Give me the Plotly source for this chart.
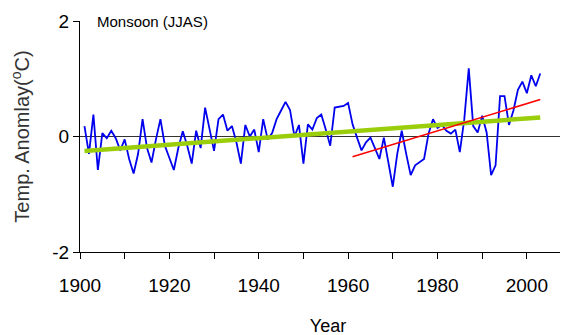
import plotly.graph_objects as go

years = list(range(1901, 2004))
anomaly = [
    0.18, -0.30, 0.38, -0.58, 0.06, -0.03, 0.10, -0.03, -0.24, -0.05,
    -0.39, -0.64, -0.30, 0.30, -0.20, -0.45, -0.05, 0.30, -0.16, -0.36,
    -0.58, -0.20, 0.09, -0.16, -0.47, 0.10, -0.20, 0.50, 0.12, -0.25,
    0.30, 0.38, 0.10, 0.18, -0.10, -0.47, 0.20, 0.00, 0.12, -0.27,
    0.30, -0.05, 0.06, 0.30, 0.45, 0.60, 0.46, 0.00, 0.20, -0.47,
    0.21, 0.12, 0.32, 0.38, 0.12, -0.16, 0.50, 0.52, 0.53, 0.58,
    0.21, -0.02, -0.24, -0.10, -0.02, -0.20, -0.39, -0.02, -0.45, -0.87,
    -0.30, 0.10, -0.30, -0.67, -0.50, -0.44, -0.39, 0.05, 0.30, 0.15,
    0.20, 0.10, 0.05, 0.12, -0.27, 0.30, 1.18, 0.18, 0.07, 0.36,
    0.07, -0.67, -0.50, 0.70, 0.70, 0.20, 0.45, 0.81, 0.95, 0.75,
    1.06, 0.87, 1.09,
]
trend_all_years = [1901, 2003]
trend_all_vals = [-0.25, 0.33]
trend_recent_years = [1961, 2003]
trend_recent_vals = [-0.35, 0.64]

x_tickvals = list(range(1900, 2011, 10))
x_ticktext = [str(v) if v % 20 == 0 else "" for v in x_tickvals]
y_tickvals = [-2, 0, 2]
y_ticktext = ["-2", "0", "2"]

FONT = "Arial, Liberation Sans, sans-serif"

fig = go.Figure()
fig.add_trace(go.Scatter(x=years, y=anomaly, mode="lines",
                         line=dict(color="#0000EE", width=1.8), showlegend=False))
fig.add_trace(go.Scatter(x=trend_all_years, y=trend_all_vals, mode="lines",
                         line=dict(color="#9ACD0A", width=4.5), showlegend=False))
fig.add_trace(go.Scatter(x=trend_recent_years, y=trend_recent_vals, mode="lines",
                         line=dict(color="#FF0000", width=1.6), showlegend=False))

fig.update_layout(
    width=568, height=335,
    margin=dict(l=72, r=0, t=13, b=91),
    paper_bgcolor="white", plot_bgcolor="white",
    font=dict(family=FONT, size=18, color="black"),
    xaxis=dict(range=[1900, 2011], tickvals=x_tickvals, ticktext=x_ticktext,
               ticks="outside", ticklen=6, tickcolor="black", showline=True,
               linecolor="black", linewidth=1, showgrid=False, zeroline=False,
               automargin=False, ticklabelstandoff=10,
               title=dict(text="Year", font=dict(size=18), standoff=24),
               tickfont=dict(size=19)),
    yaxis=dict(range=[-2, 2], tickvals=y_tickvals, ticktext=y_ticktext,
               ticks="outside", ticklen=6, tickcolor="black", showline=True,
               linecolor="black", linewidth=1, showgrid=False,
               zeroline=True, zerolinecolor="#333333", zerolinewidth=1,
               automargin=False,
               title=dict(text="Temp. Anomlay(<sup>o</sup>C)", font=dict(size=20, color="#333333"), standoff=23),
               tickfont=dict(size=19)),
    annotations=[dict(text="Monsoon (JJAS)", x=0.03, y=1.0, xref="paper", yref="paper",
                      xanchor="left", yanchor="middle", showarrow=False,
                      font=dict(size=15, color="black"))],
)

fig.write_html("out.html", config={"displayModeBar": False})
